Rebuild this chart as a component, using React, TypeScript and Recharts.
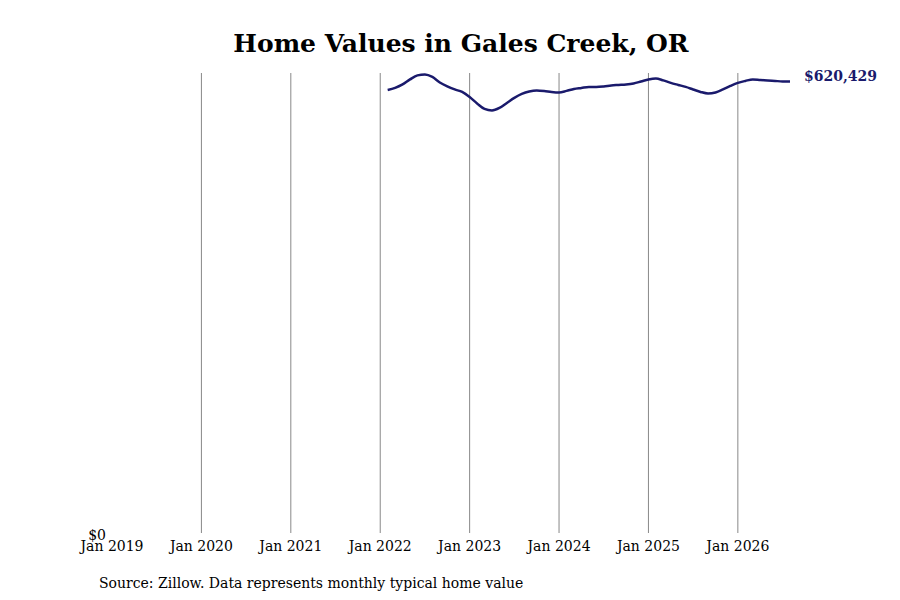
import React from 'react';
import { LineChart, Line, XAxis, YAxis, ReferenceLine } from 'recharts';

// months counted from Jan 2019 (0 = Jan 2019)
const months = [
  37, 38, 39, 40, 41, 42, 43, 44, 45, 46, 47, 48, 49, 50, 51, 52, 53, 54, 55,
  56, 57, 58, 59, 60, 61, 62, 63, 64, 65, 66, 67, 68, 69, 70, 71, 72, 73, 74,
  75, 76, 77, 78, 79, 80, 81, 82, 83, 84, 85, 86, 87, 88, 89, 90, 91,
];

const homeValues = [
  608700, 611500, 616300, 623200, 628700, 630000, 626600, 619000, 613600,
  609400, 606000, 599100, 590200, 582700, 580600, 584000, 590900, 597800,
  603300, 606700, 608100, 607400, 606000, 605300, 607400, 610100, 611500,
  612900, 612900, 613600, 614900, 615600, 616300, 617700, 620400, 623200,
  624500, 621800, 618400, 615600, 612900, 609400, 606000, 603900, 605300,
  609400, 614200, 618400, 621100, 623200, 622500, 621800, 621100, 620429,
  620429,
];

const yearTicks = [0, 12, 24, 36, 48, 60, 72, 84];
const yearLabels = [
  'Jan 2019',
  'Jan 2020',
  'Jan 2021',
  'Jan 2022',
  'Jan 2023',
  'Jan 2024',
  'Jan 2025',
  'Jan 2026',
];

const FONT = '"DejaVu Serif", serif';
const NAVY = '#1a1a6c';

const data = months.map((m, i) => ({ m, value: homeValues[i] }));

const EndLabel = (props: any) => {
  const { x, y, index } = props;
  if (index !== data.length - 1) return null;
  return (
    <text
      x={x + 14}
      y={y}
      fill={NAVY}
      fontSize={14}
      fontWeight="bold"
      fontFamily={FONT}
    >
      ${homeValues[homeValues.length - 1].toLocaleString('en-US')}
    </text>
  );
};

export default function App() {
  if (typeof document !== 'undefined') document.body.style.margin = '0';

  return (
    <div
      style={{
        position: 'relative',
        width: 900,
        height: 600,
        background: '#fff',
        fontFamily: FONT,
      }}
    >
      <div
        style={{
          position: 'absolute',
          top: 29,
          left: 0,
          width: 922,
          textAlign: 'center',
          fontSize: 25,
          fontWeight: 'bold',
        }}
      >
        Home Values in Gales Creek, OR
      </div>
      <LineChart
        width={900}
        height={600}
        data={data}
        margin={{ top: 73, right: 110, bottom: 37, left: 52 }}
      >
        {yearTicks.slice(1).map((t) => (
          <ReferenceLine key={t} x={t} stroke="#888" strokeWidth={1} />
        ))}
        <XAxis
          dataKey="m"
          type="number"
          domain={[0, 91]}
          ticks={yearTicks}
          tickFormatter={(v: number) => yearLabels[yearTicks.indexOf(v)]}
          axisLine={false}
          tickLine={false}
          tick={{ fill: '#000', fontSize: 14, fontFamily: FONT }}
          height={30}
          interval={0}
        />
        <YAxis
          type="number"
          domain={[0, 632000]}
          ticks={[0]}
          tickFormatter={() => '$0'}
          axisLine={false}
          tickLine={false}
          tick={{ fill: '#000', fontSize: 14, fontFamily: FONT, dx: 2, dy: 2 }}
          width={60}
        />
        <Line
          dataKey="value"
          type="monotone"
          stroke={NAVY}
          strokeWidth={2.5}
          dot={false}
          isAnimationActive={false}
          label={<EndLabel />}
        />
      </LineChart>
      <div
        style={{
          position: 'absolute',
          top: 575,
          left: 99,
          fontSize: 14,
        }}
      >
        Source: Zillow. Data represents monthly typical home value
      </div>
    </div>
  );
}
